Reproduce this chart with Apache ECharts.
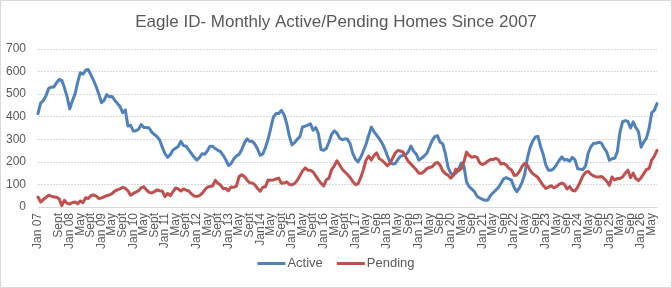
<!DOCTYPE html>
<html>
<head>
<meta charset="utf-8" />
<title>Eagle ID- Monthly Active/Pending Homes Since 2007</title>
<script src="https://cdn.jsdelivr.net/npm/echarts@6/dist/echarts.min.js"></script>
<style>
  html, body { margin: 0; padding: 0; background: #fff; }
  #chart { width: 672px; height: 288px; }
</style>
</head>
<body>
<div id="chart"></div>
<script>
// tick labels, one for every 4th month (Jan / May / Sept)
const tickLabels = [
  "Jan 07", "May", "Sept", "Jan 08", "May", "Sept", "Jan 09", "May", "Sept",
  "Jan 10", "May", "Sept", "Jan 11", "May", "Sept", "Jan 12", "May", "Sept",
  "Jan 13", "May", "Sept", "Jan14", "May", "Sept", "Jan 15", "May", "Sept",
  "Jan 16", "May", "Sept", "Jan 17", "May", "Sep", "Jan 18", "May", "Sep",
  "Jan 19", "May", "Sep", "Jan 20", "May", "Sep", "Jan 21", "May", "Sep",
  "Jan 22", "May", "Sep", "Jan 23", "May", "Sep", "Jan 24", "May", "Sep",
  "Jan 25", "May", "Sep", "Jan 26", "May"
];

// monthly values, Jan 2007 .. Jul 2026
const active = [
  414, 460, 472, 492, 525, 531, 532, 550, 565, 561, 528, 488, 435, 471, 500, 552, 595, 588, 606, 609,
  585, 561, 533, 500, 462, 472, 498, 488, 490, 473, 459, 445, 418, 430, 359, 362, 337, 338, 344, 365,
  352, 352, 350, 332, 321, 312, 296, 265, 236, 220, 232, 252, 260, 268, 291, 272, 269, 253, 237, 221,
  208, 219, 236, 234, 248, 269, 269, 259, 251, 245, 229, 209, 184, 193, 213, 226, 233, 254, 283, 302,
  291, 291, 278, 257, 229, 235, 264, 301, 350, 399, 414, 414, 428, 410, 371, 315, 275, 285, 300, 312,
  355, 358, 363, 369, 340, 352, 325, 254, 251, 259, 288, 322, 337, 328, 305, 298, 302, 300, 280, 238,
  212, 200, 220, 248, 278, 317, 354, 334, 318, 303, 284, 260, 229, 200, 191, 192, 210, 225, 229, 231,
  245, 270, 247, 234, 208, 216, 226, 238, 266, 294, 312, 316, 287, 280, 236, 177, 150, 141, 150, 168,
  195, 183, 111, 90, 79, 68, 47, 40, 34, 30, 30, 50, 63, 74, 86, 104, 125, 130, 125, 118,
  87, 68, 85, 109, 145, 216, 263, 291, 310, 313, 268, 232, 185, 163, 163, 171, 187, 206, 222, 208,
  210, 203, 220, 209, 170, 167, 166, 182, 240, 267, 281, 282, 287, 283, 261, 244, 207, 214, 216, 244,
  332, 378, 383, 379, 350, 377, 352, 333, 265, 288, 305, 348, 418, 428, 458
];
const pending = [
  44, 22, 33, 42, 52, 48, 44, 43, 36, 6, 30, 16, 13, 20, 22, 14, 27, 19, 41, 38,
  50, 54, 48, 38, 40, 45, 50, 54, 59, 70, 76, 80, 88, 83, 72, 52, 60, 66, 72, 85,
  90, 76, 65, 62, 68, 76, 72, 70, 46, 60, 50, 67, 84, 80, 71, 80, 75, 71, 58, 49,
  47, 50, 60, 75, 88, 91, 93, 118, 105, 97, 82, 82, 72, 89, 87, 92, 134, 143, 135, 120,
  107, 106, 98, 82, 70, 88, 90, 120, 119, 120, 124, 128, 105, 106, 111, 100, 98, 104, 118, 138,
  160, 173, 163, 163, 155, 138, 120, 105, 93, 121, 128, 166, 182, 205, 187, 167, 155, 144, 130, 113,
  99, 103, 130, 165, 207, 226, 208, 228, 240, 214, 207, 196, 183, 192, 215, 238, 250, 248, 244, 222,
  202, 190, 177, 165, 149, 150, 158, 170, 175, 178, 192, 198, 186, 160, 148, 141, 128, 140, 168, 160,
  170, 200, 243, 228, 220, 224, 220, 195, 188, 193, 203, 210, 210, 215, 210, 190, 194, 186, 172, 164,
  140, 142, 158, 180, 194, 185, 163, 148, 140, 130, 112, 95, 82, 88, 94, 85, 90, 100, 106, 100,
  80, 90, 74, 71, 88, 112, 138, 153, 158, 145, 138, 133, 133, 135, 126, 114, 96, 133, 120, 126,
  126, 133, 150, 163, 130, 150, 126, 117, 130, 148, 166, 170, 208, 225, 251
];

const seriesNames = ["Active", "Pending"];
const seriesColors = ["#4F81BD", "#C0504D"];

// one category per month, labelled only on every 4th month
const categories = active.map((v, i) => (i % 4 === 0 ? tickLabels[i / 4] : ""));

const font = "'Liberation Sans Narrow', 'Arial Narrow', sans-serif";
const textColor = "#595959";

const chart = echarts.init(document.getElementById("chart"), null, { renderer: "canvas" });

const option = {
  animation: false,
  backgroundColor: "#fff",
  textStyle: { fontFamily: font },
  title: {
    text: "Eagle ID- Monthly Active/Pending Homes Since 2007",
    left: "center",
    top: 9,
    textStyle: { fontFamily: font, fontSize: 17, fontWeight: "normal", color: textColor }
  },
  // chart area border
  graphic: [{
    type: "rect",
    shape: { x: 0.5, y: 0.5, width: 671, height: 287 },
    style: { fill: null, stroke: "#d9d9d9", lineWidth: 1 },
    silent: true
  }],
  grid: {
    left: 38,
    right: 15,
    top: 49,
    bottom: 81,
    outerBoundsMode: "none"
  },
  legend: {
    data: seriesNames,
    bottom: 13,
    left: "center",
    icon: "rect",
    itemWidth: 28,
    itemHeight: 3,
    itemGap: 14,
    textStyle: { fontFamily: font, fontSize: 13, color: textColor, padding: [0, 0, 0, -3] }
  },
  xAxis: {
    type: "category",
    data: categories,
    boundaryGap: false,
    axisLine: { lineStyle: { color: "#d9d9d9" } },
    axisTick: { show: false },
    axisLabel: {
      interval: 3,
      rotate: 90,
      margin: 6,
      showMinLabel: true,
      showMaxLabel: true,
      hideOverlap: false,
      fontFamily: font,
      fontSize: 12,
      color: textColor,
      formatter: (v, i) => (i % 4 === 0 ? tickLabels[i / 4] : "")
    }
  },
  yAxis: {
    type: "value",
    min: 0,
    max: 700,
    interval: 100,
    axisLine: { show: false },
    axisTick: { show: false },
    axisLabel: { margin: 12, fontFamily: font, fontSize: 12, color: textColor },
    splitLine: { lineStyle: { color: "#d9d9d9", type: [2, 1] } }
  },
  series: [
    {
      name: seriesNames[0],
      type: "line",
      data: active,
      showSymbol: false,
      color: seriesColors[0],
      lineStyle: { width: 3, color: seriesColors[0], cap: "round", join: "round" }
    },
    {
      name: seriesNames[1],
      type: "line",
      data: pending,
      showSymbol: false,
      color: seriesColors[1],
      lineStyle: { width: 3, color: seriesColors[1], cap: "round", join: "round" }
    }
  ]
};
chart.setOption(option);
</script>
</body>
</html>
